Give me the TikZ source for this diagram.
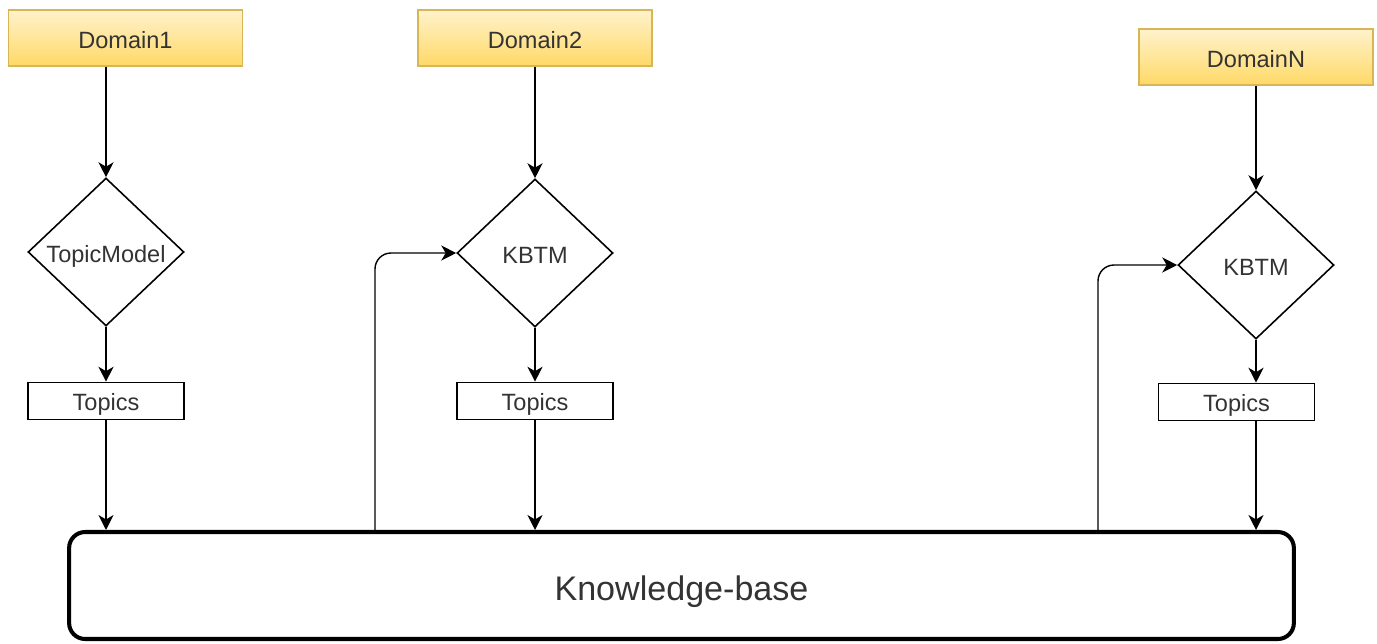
\documentclass[tikz,border=0pt]{standalone}
\usepackage{fontspec}
\setmainfont{Liberation Sans}
\usepackage{tikz}
\usetikzlibrary{shapes,arrows,positioning,arrows.meta}
\definecolor{dtop}{HTML}{FFF2CC}
\definecolor{dbot}{HTML}{FFD966}
\definecolor{dline}{HTML}{D6B656}
\definecolor{ink}{HTML}{333333}
\tikzstyle{domainbox} = [rectangle, draw=dline, line width=0.7pt, top color=dtop, bottom color=dbot, text=ink, minimum width=4.68cm, minimum height=1.12cm, inner sep=0pt, text height=12.4pt, text depth=0pt, font=\fontsize{13.4}{16}\selectfont]
\tikzstyle{model} = [diamond, draw=black, line width=0.9pt, fill=white, text=ink, minimum width=3.12cm, minimum height=2.96cm, inner sep=0pt, text height=11.4pt, text depth=0pt, font=\fontsize{13.4}{16}\selectfont]
\tikzstyle{topics} = [rectangle, draw=black, line width=0.9pt, text=ink, minimum width=3.12cm, minimum height=0.74cm, inner sep=0pt, text height=11pt, text depth=0pt, font=\fontsize{13.4}{16}\selectfont]
\tikzstyle{kbase} = [rectangle, rounded corners=0.32cm, draw=black, line width=2.3pt, text=ink, minimum width=24.5cm, minimum height=2.14cm, inner sep=0pt, text height=17.6pt, text depth=0pt, font=\fontsize{19.4}{24}\selectfont]

\begin{document}
\begin{tikzpicture}[x=0.02cm, y=-0.02cm, >={Stealth[length=8.5pt,width=8.5pt,inset=2.5pt]}, line width=0.8pt]
  \useasboundingbox (0,0) rectangle (1377,643);
  % draw domain nodes
  \node[domainbox] (dom1) at (125.5,38) {Domain1};
  \node[domainbox] (dom2) at (535,38) {Domain2};
  \node[domainbox] (domN) at (1256,57) {DomainN};
  % draw model nodes
  \node[model] (m1) at (106,252) {\makebox[0pt]{TopicModel}};
  \node[model] (m2) at (535,253) {\makebox[0pt]{KBTM}};
  \node[model] (mN) at (1256,265) {\makebox[0pt]{KBTM}};
  % draw topic nodes
  \node[topics] (t1) at (106,401) {Topics};
  \node[topics] (t2) at (535,401) {Topics};
  \node[topics] (tN) at (1236.5,402) {Topics};
  % draw knowledge base
  \node[kbase] (kb) at (681.5,585.5) {Knowledge-base};
  % draw domain -> model -> topics -> knowledge base links
  \foreach \i in {1,2,N} {
    \draw[->] (m\i.north |- dom\i.south) -> (m\i.north);
    \draw[->] (m\i.south) -> (m\i.south |- t\i.north);
    \draw[->] (m\i.south |- t\i.south) -> (m\i.south |- kb.north);
  }
  % draw knowledge feedback links
  \coordinate (f2) at (375,530);
  \coordinate (fN) at (1098,530);
  \draw[->, rounded corners=0.32cm] (f2 |- kb.north) |- (m2.west);
  \draw[->, rounded corners=0.32cm] (fN |- kb.north) |- (mN.west);
\end{tikzpicture}
\end{document}
